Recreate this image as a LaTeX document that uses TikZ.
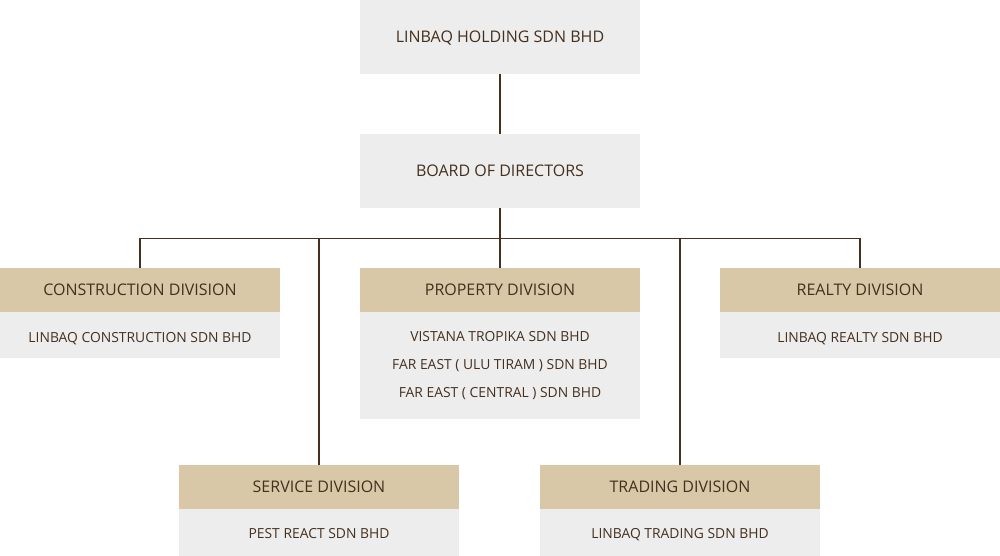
\documentclass[tikz,border=0pt]{standalone}
\usepackage{fontspec}
\setmainfont{Open Sans}
\definecolor{hdr}{HTML}{D9C8A7}
\definecolor{gry}{HTML}{EDEDED}
\definecolor{ink}{HTML}{45301F}
\begin{document}
\begin{tikzpicture}[x=0.75pt,y=-0.75pt,
  box/.style={fill=gry,draw=none,inner sep=0pt,outer sep=0pt,minimum width=210pt,text=ink,align=center},
  topbox/.style={box,minimum height=55.5pt,font=\fontsize{12}{14}\selectfont,text height=8.6pt,text depth=0pt},
  head/.style={box,fill=hdr,minimum height=33pt,font=\fontsize{12}{14}\selectfont,text height=8.6pt,text depth=0pt},
  sub/.style={box,font=\fontsize{10.4}{20.7}\selectfont},
  subone/.style={sub,text height=11pt,text depth=0pt},
  sublow/.style={sub,text height=8.4pt,text depth=0pt},
  conn/.style={draw=ink,line width=0.8pt}]
\useasboundingbox (0,0) rectangle (1000,556);
\node[topbox,anchor=north west] (top) at (360,0) {LINBAQ HOLDING SDN BHD};
\node[topbox,anchor=north west] (board) at (360,134) {BOARD OF DIRECTORS};
% divisions
\node[head,anchor=north west] (conh) at (0,268) {CONSTRUCTION DIVISION};
\node[subone,anchor=north west,minimum height=34.5pt] (cons) at (0,312) {LINBAQ CONSTRUCTION SDN BHD};
\node[head,anchor=north west] (proh) at (360,268) {PROPERTY DIVISION};
\node[sub,anchor=north west,minimum height=80.25pt] (pros) at (360,312) {VISTANA TROPIKA SDN BHD\\FAR EAST ( ULU TIRAM ) SDN BHD\\FAR EAST ( CENTRAL ) SDN BHD};
\node[head,anchor=north west] (reah) at (720,268) {REALTY DIVISION};
\node[subone,anchor=north west,minimum height=34.5pt] (reas) at (720,312) {LINBAQ REALTY SDN BHD};
\node[head,anchor=north west] (serh) at (179,465) {SERVICE DIVISION};
\node[sublow,anchor=north west,minimum height=35.25pt] (sers) at (179,509) {PEST REACT SDN BHD};
\node[head,anchor=north west] (trah) at (540,465) {TRADING DIVISION};
\node[sublow,anchor=north west,minimum height=35.25pt] (tras) at (540,509) {LINBAQ TRADING SDN BHD};
% connectors
\coordinate (bar) at (500,238.5);
\draw[conn] (top.south) -- (board.north);
\draw[conn] (board.south) -- (bar);
\draw[conn] (conh.north) |- (bar);
\draw[conn] (reah.north) |- (bar);
\draw[conn] (proh.north) -- (bar);
\draw[conn] (serh.north) |- (bar);
\draw[conn] (trah.north) |- (bar);
\end{tikzpicture}
\end{document}
